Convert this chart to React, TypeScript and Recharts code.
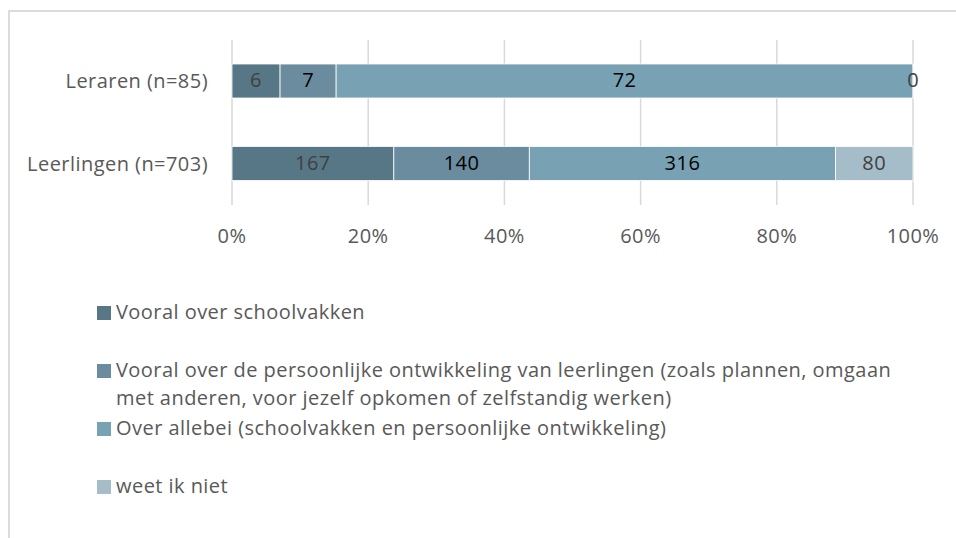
import React from "react";
import { BarChart, Bar, XAxis, YAxis, CartesianGrid, Legend, LabelList } from "recharts";

// groups shown on the y axis (top to bottom)
const groups = ["Leraren (n=85)", "Leerlingen (n=703)"];

// answer counts per group
const vakken = [6, 167];
const persoonlijk = [7, 140];
const allebei = [72, 316];
const weetNiet = [0, 80];

const seriesNames = [
  "Vooral over schoolvakken",
  "Vooral over de persoonlijke ontwikkeling van leerlingen (zoals plannen, omgaan met anderen, voor jezelf opkomen of zelfstandig werken)",
  "Over allebei (schoolvakken en persoonlijke ontwikkeling)",
  "weet ik niet",
];

const xTicks = [0, 0.2, 0.4, 0.6, 0.8, 1];

const data = groups.map((name, i) => ({
  name,
  s1: vakken[i],
  s2: persoonlijk[i],
  s3: allebei[i],
  s4: weetNiet[i],
}));

const series = [
  { key: "s1", name: seriesNames[0], color: "#587786", label: "#404040" },
  { key: "s2", name: seriesNames[1], color: "#6a8c9e", label: "#000000" },
  { key: "s3", name: seriesNames[2], color: "#78a1b4", label: "#000000" },
  { key: "s4", name: seriesNames[3], color: "#a5bdc9", label: "#404040" },
];

const FONT = "'Open Sans', 'Noto Sans', sans-serif";
const FS = 20;
const LS = 0.45;

const LegendBox = () => (
  <div style={{ paddingTop: 63, paddingLeft: 97, height: 303, boxSizing: "border-box", fontFamily: FONT, fontSize: FS, letterSpacing: LS, color: "#595959" }}>
    {series.map((s) => (
      <div key={s.key} style={{ display: "flex", alignItems: "flex-start", height: 58, lineHeight: "28px" }}>
        <span style={{ width: 14, height: 14, background: s.color, marginTop: 8, marginRight: 5, flex: "0 0 14px" }} />
        <span style={{ width: 800 }}>{s.name}</span>
      </div>
    ))}
  </div>
);

// centered value label, also drawn for zero-width segments
const makeLabel = (color: string) => (props: any) => {
  const { x, y, width, height, value } = props;
  if (value == null) return null;
  return (
    <text x={x + width / 2} y={y + height / 2} dy={1} textAnchor="middle" dominantBaseline="middle" fill={color} fontSize={FS} fontFamily={FONT} letterSpacing={LS}>
      {value}
    </text>
  );
};

const tickStyle = { fill: "#595959", fontSize: FS, fontFamily: FONT, letterSpacing: LS };

export default function App() {
  return (
    <div style={{ position: "absolute", left: 0, top: 0, width: 956, height: 538, background: "#fff", overflow: "hidden" }}>
      <div style={{ position: "absolute", left: 8, top: 10, width: 960, height: 540, borderLeft: "2px solid #dcdcdc", borderTop: "2px solid #dcdcdc" }} />
      <div style={{ position: "absolute", left: 0, top: 0 }}>
        <BarChart
          width={956}
          height={538}
          data={data}
          layout="vertical"
          stackOffset="expand"
          margin={{ top: 40, right: 43, left: 0, bottom: 0 }}
          barCategoryGap={24}
        >
          <CartesianGrid horizontal={false} stroke="#d9d9d9" strokeWidth={1.5} />
          <XAxis
            type="number"
            domain={[0, 1]}
            ticks={xTicks}
            tickFormatter={(v: number) => `${Math.round(v * 100)}%`}
            axisLine={false}
            tickLine={false}
            height={30}
            tickMargin={18}
            tick={tickStyle}
          />
          <YAxis
            type="category"
            dataKey="name"
            width={232}
            axisLine={false}
            tickLine={false}
            tickSize={0}
            tickMargin={24}
            tick={tickStyle}
          />
          <Legend verticalAlign="bottom" align="left" wrapperStyle={{ left: 0, width: 956 }} content={() => <LegendBox />} />
          {series.map((s) => (
            <Bar key={s.key} dataKey={s.key} name={s.name} stackId="a" fill={s.color} stroke="#ffffff" strokeWidth={0.8} barSize={34} minPointSize={0.5} isAnimationActive={false}>
              <LabelList dataKey={s.key} content={makeLabel(s.label)} />
            </Bar>
          ))}
        </BarChart>
      </div>
    </div>
  );
}
